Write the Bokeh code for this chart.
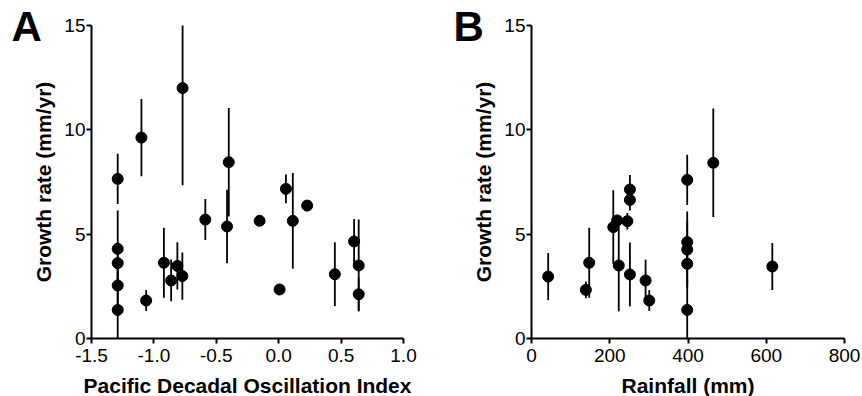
from bokeh.plotting import figure
from bokeh.layouts import row
from bokeh.models import ColumnDataSource, FixedTicker, NumeralTickFormatter, Label
from bokeh.embed import file_html
from bokeh.resources import INLINE

# Panel A: Pacific Decadal Oscillation index vs growth rate
pdo_index = [-1.29, -1.10, -0.77, -0.40, 0.058, 0.113, -0.414, -0.588, -0.153, 0.228,
             0.007, -1.29, -1.29, -1.29, -1.29, -1.062, -0.92, -0.862, -0.812, -0.772,
             0.45, 0.604, 0.641, 0.641]
pdo_growth = [7.65, 9.63, 12.0, 8.45, 7.17, 5.64, 5.37, 5.70, 5.64, 6.37,
              2.35, 4.30, 3.61, 2.54, 1.37, 1.82, 3.63, 2.78, 3.48, 2.99,
              3.08, 4.65, 3.50, 2.12]
pdo_err = [1.2, 1.85, 4.65, 2.6, 0.69, 2.29, 1.76, 0.98, 0.0, 0.0,
           0.0, 1.83, 1.0, 1.0, 1.5, 0.5, 1.68, 1.0, 1.13, 1.13,
           1.53, 1.08, 2.2, 0.8]

# Panel B: Rainfall vs growth rate
rain_mm = [42.6, 139, 147.5, 209, 219, 223, 245, 251.5, 251.5, 251.5,
           291.6, 301, 398, 398, 398, 398, 398, 464.6, 615.5]
rain_growth = [2.97, 2.33, 3.63, 5.34, 5.66, 3.50, 5.62, 7.14, 6.64, 3.07,
               2.78, 1.82, 7.60, 4.62, 4.26, 3.58, 1.37, 8.42, 3.45]
rain_err = [1.13, 0.4, 1.68, 1.76, 0.0, 2.2, 0.4, 0.69, 0.5, 1.53,
            1.0, 0.5, 1.2, 1.0, 1.83, 1.0, 1.5, 2.6, 1.13]

y_ticks = [0, 5, 10, 15]
pdo_ticks = [-1.5, -1.0, -0.5, 0.0, 0.5, 1.0]
rain_ticks = [0, 200, 400, 600, 800]

FONT = "Liberation Sans"
H = 396
Y_TOP_PX = 25      # canvas y of the y=15 tick
Y_ZERO_PX = 338    # canvas y of the x axis


def make_panel(xs, ys, es, x_lo, x_hi, x_ticks, x_label, letter, letter_px, width,
               axis_px, right_px, x_fmt):
    y_lo, y_hi = 0.0, 15.0
    lo = [max(y - e, y_lo) for y, e in zip(ys, es)]
    hi = [min(y + e, y_hi) for y, e in zip(ys, es)]
    src = ColumnDataSource(dict(x=xs, y=ys, lo=lo, hi=hi))

    # the plotting frame covers the whole canvas; axes are pinned inside it
    xu = (x_hi - x_lo) / (width - right_px - axis_px)      # data per px
    yu = (y_hi - y_lo) / (Y_ZERO_PX - Y_TOP_PX)
    x_start = x_lo - axis_px * xu
    x_end = x_hi + right_px * xu
    y_end = y_hi + Y_TOP_PX * yu
    y_start = y_lo - (H - Y_ZERO_PX) * yu

    p = figure(width=width, height=H, x_range=(x_start, x_end), y_range=(y_start, y_end),
               output_backend="svg", toolbar_location=None,
               min_border=0)
    p.outline_line_color = None
    p.grid.visible = False
    p.segment(x0="x", y0="lo", x1="x", y1="hi", source=src, line_color="black", line_width=1.8)
    p.scatter(x="x", y="y", source=src, size=11, marker="circle", fill_color="black", line_color="black")

    for ax in (p.xaxis[0], p.yaxis[0]):
        ax.axis_line_width = 2
        ax.axis_line_color = "black"
        ax.major_tick_line_width = 2
        ax.major_tick_out = 5
        ax.major_tick_in = 0
        ax.minor_tick_out = 0
        ax.minor_tick_in = 0
        ax.major_label_text_font = FONT
        ax.major_label_text_font_size = "19px"
        ax.major_label_text_color = "black"
        ax.axis_label_text_font = FONT
        ax.axis_label_text_font_size = "21px"
        ax.axis_label_text_font_style = "bold"
        ax.axis_label_text_color = "black"
    xa, ya = p.xaxis[0], p.yaxis[0]
    xa.ticker = FixedTicker(ticks=x_ticks)
    xa.formatter = x_fmt
    xa.bounds = (x_lo, x_hi)
    xa.fixed_location = y_lo
    xa.axis_label = x_label
    xa.major_label_standoff = 5
    xa.axis_label_standoff = 9
    ya.ticker = FixedTicker(ticks=y_ticks)
    ya.bounds = (y_lo, y_hi)
    ya.fixed_location = x_lo
    ya.axis_label = "Growth rate (mm/yr)"
    ya.major_label_standoff = 1
    ya.axis_label_standoff = 6

    p.add_layout(Label(x=x_lo + (letter_px - axis_px) * xu, y=y_lo + (Y_ZERO_PX - 26) * yu,
                       text=letter, text_font=FONT, text_font_size="42px",
                       text_font_style="bold", text_color="black",
                       text_baseline="alphabetic"))
    return p


pA = make_panel(pdo_index, pdo_growth, pdo_err, -1.5, 1.0, pdo_ticks,
                "Pacific Decadal Oscillation Index", "A", 11, 430, 91, 27,
                NumeralTickFormatter(format="0.0"))
pB = make_panel(rain_mm, rain_growth, rain_err, 0, 800, rain_ticks,
                "Rainfall (mm)", "B", 23, 432, 101, 18,
                NumeralTickFormatter(format="0"))

layout = row(pA, pB)
open("out.html", "w").write(file_html(layout, INLINE))
